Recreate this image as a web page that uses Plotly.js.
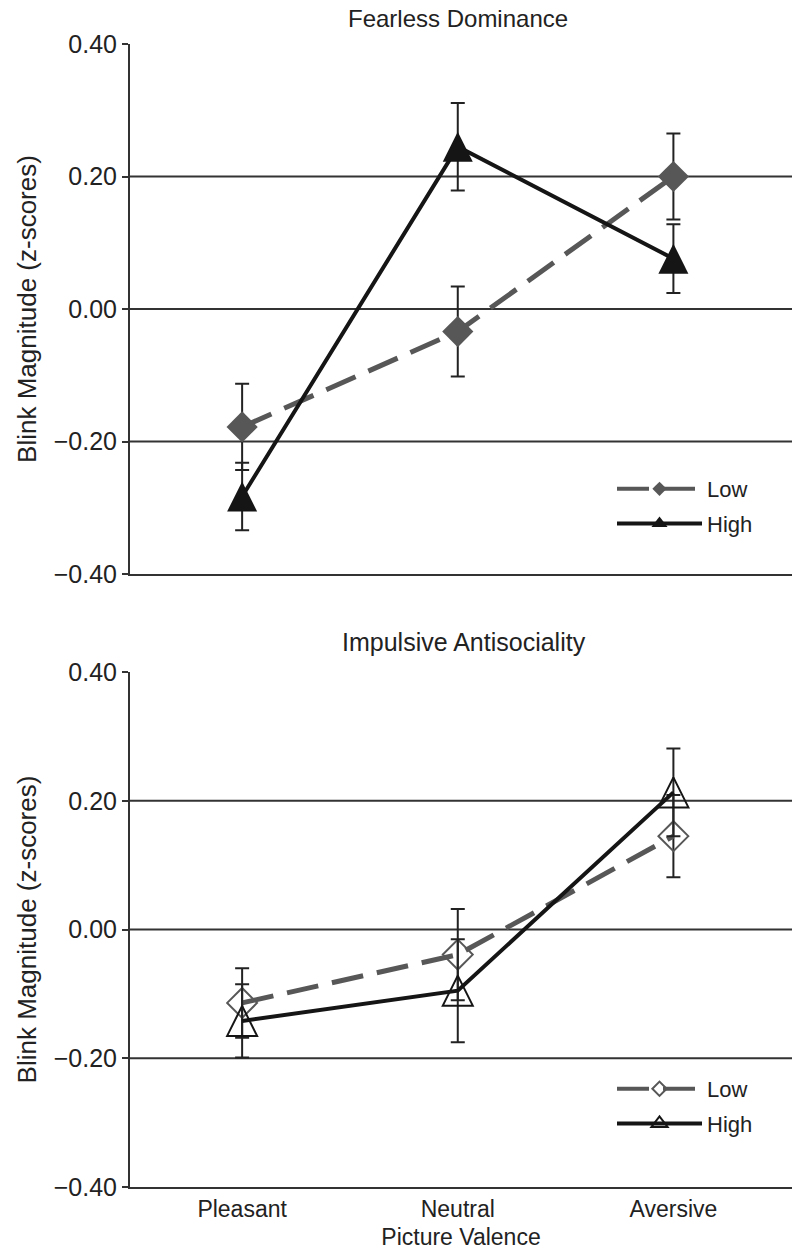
<!DOCTYPE html>
<html>
<head>
<meta charset="utf-8">
<script src="https://cdn.plot.ly/plotly-3.0.1.min.js"></script>
<style>
  html, body { margin: 0; padding: 0; background: #fff; }
  #chart { width: 792px; height: 1255px; }
</style>
</head>
<body>
<div id="chart"></div>
<script>
// ---- data ----
const categories = ['Pleasant', 'Neutral', 'Aversive'];
const seriesNames = ['Low', 'High'];
const panelTitles = ['Fearless Dominance', 'Impulsive Antisociality'];

const fdLow = [-0.178, -0.034, 0.200];
const fdLowErr = [0.065, 0.068, 0.065];
const fdHigh = [-0.283, 0.245, 0.076];
const fdHighErr = [0.051, 0.066, 0.052];

const iaLow = [-0.114, -0.039, 0.145];
const iaLowErr = [0.054, 0.071, 0.064];
const iaHigh = [-0.142, -0.095, 0.213];
const iaHighErr = [0.057, 0.080, 0.068];

const yTickVals = [-0.4, -0.2, 0, 0.2, 0.4];
const yTickText = ['\u22120.40', '\u22120.20', '0.00', '0.20', '0.40'];
const gridVals = [-0.2, 0, 0.2];

// ---- styling ----
const FONT = 'Liberation Sans, Arial, Helvetica, sans-serif';
const GREY = '#575757';
const BLACK = '#151515';
const AXC = '#333333';
const TXT = '#222222';

function errBar(arr) {
  return { type: 'data', array: arr, visible: true, color: '#222', thickness: 2, width: 7 };
}

const lowLine = { color: GREY, width: 5, dash: '32px,14px' };
const highLine = { color: BLACK, width: 4 };

const traces = [
  // Fearless Dominance
  {
    x: categories, y: fdLow, name: seriesNames[0], xaxis: 'x', yaxis: 'y', showlegend: false,
    mode: 'lines+markers', line: lowLine,
    marker: { symbol: 'diamond', size: 24, color: GREY },
    error_y: errBar(fdLowErr)
  },
  {
    x: categories, y: fdHigh, name: seriesNames[1], xaxis: 'x', yaxis: 'y', showlegend: false,
    mode: 'lines+markers', line: highLine,
    marker: { symbol: 'arrow-down', angle: 180, standoff: 15, size: 30, color: BLACK },
    error_y: errBar(fdHighErr)
  },
  // Impulsive Antisociality
  {
    x: categories, y: iaLow, name: seriesNames[0], xaxis: 'x2', yaxis: 'y2', showlegend: false,
    mode: 'lines+markers', line: lowLine,
    marker: { symbol: 'diamond-open', size: 23, color: GREY, line: { color: GREY, width: 2 } },
    error_y: errBar(iaLowErr)
  },
  {
    x: categories, y: iaHigh, name: seriesNames[1], xaxis: 'x2', yaxis: 'y2', showlegend: false,
    mode: 'lines+markers', line: highLine,
    marker: { symbol: 'arrow-down-open', angle: 180, standoff: 15, size: 30, color: BLACK, line: { color: BLACK, width: 2 } },
    error_y: errBar(iaHighErr)
  },
  // legend entries (no data points)
  {
    x: [null], y: [null], name: seriesNames[0], xaxis: 'x', yaxis: 'y', legend: 'legend', legendgroup: 'a1',
    mode: 'lines+markers', line: { color: GREY, width: 4, dash: '32px,14px' },
    marker: { symbol: 'diamond', size: 11, color: GREY }
  },
  {
    x: [null], y: [null], name: seriesNames[1], xaxis: 'x', yaxis: 'y', legend: 'legend', legendgroup: 'a2',
    mode: 'lines+markers', line: { color: BLACK, width: 4 },
    marker: { symbol: 'triangle-up', size: 14, color: BLACK }
  },
  {
    x: [null], y: [null], name: seriesNames[0], xaxis: 'x2', yaxis: 'y2', legend: 'legend2', legendgroup: 'b1',
    mode: 'lines+markers', line: { color: GREY, width: 4, dash: '32px,14px' },
    marker: { symbol: 'diamond-open', size: 11, color: GREY, line: { color: GREY, width: 2 } }
  },
  {
    x: [null], y: [null], name: seriesNames[1], xaxis: 'x2', yaxis: 'y2', legend: 'legend2', legendgroup: 'b2',
    mode: 'lines+markers', line: { color: BLACK, width: 4 },
    marker: { symbol: 'triangle-up-open', size: 14, color: BLACK, line: { color: BLACK, width: 2 } }
  }
];

function yAxis(domain, anchor) {
  return {
    domain: domain, anchor: anchor, range: [-0.4, 0.4],
    tickvals: yTickVals, ticktext: yTickText,
    ticks: 'outside', ticklen: 6, tickwidth: 2, tickcolor: AXC,
    tickfont: { family: FONT, size: 25, color: TXT },
    showline: true, linecolor: AXC, linewidth: 2,
    showgrid: false, zeroline: false,
    title: { text: 'Blink Magnitude (z-scores)', font: { family: FONT, size: 26, color: TXT }, standoff: 10 }
  };
}

function xAxis(anchor, showLabels) {
  return {
    anchor: anchor, domain: [0, 1], type: 'category', range: [-0.52, 2.55],
    showline: true, linecolor: AXC, linewidth: 2, ticks: '',
    showgrid: false, zeroline: false,
    showticklabels: showLabels,
    tickfont: { family: FONT, size: 23, color: TXT }
  };
}

const H = 1255;
const topDomain = [(H - 574) / H, (H - 44) / H];
const botDomain = [(H - 1187) / H, (H - 672) / H];

const shapes = [];
[['x', 'y'], ['x2', 'y2']].forEach(function (ax) {
  gridVals.forEach(function (v) {
    shapes.push({
      type: 'line', xref: ax[0] + ' domain', yref: ax[1], x0: 0, x1: 1, y0: v, y1: v,
      line: { color: AXC, width: 1.8 }, layer: 'below'
    });
  });
});

const xBottom = xAxis('y2', true);
xBottom.title = { text: 'Picture Valence', font: { family: FONT, size: 23, color: TXT }, standoff: 8 };

const legendBase = {
  xanchor: 'left', yanchor: 'top', bgcolor: 'rgba(0,0,0,0)',
  font: { family: FONT, size: 22, color: TXT },
  itemwidth: 85, tracegroupgap: 3
};

const layout = {
  width: 792, height: 1255,
  margin: { l: 130, r: 0, t: 0, b: 0 },
  paper_bgcolor: '#fff', plot_bgcolor: '#fff',
  showlegend: true,
  xaxis: xAxis('y', false),
  yaxis: yAxis(topDomain, 'x'),
  xaxis2: xBottom,
  yaxis2: yAxis(botDomain, 'x2'),
  legend: Object.assign({}, legendBase, { x: (612 - 130) / 662, y: (H - 468) / H }),
  legend2: Object.assign({}, legendBase, { x: (612 - 130) / 662, y: (H - 1068) / H }),
  shapes: shapes,
  annotations: [
    { text: panelTitles[0], xref: 'paper', yref: 'paper', x: (458 - 130) / 662, y: (H - 18) / H,
      showarrow: false, xanchor: 'center', yanchor: 'middle', font: { family: FONT, size: 24, color: TXT } },
    { text: panelTitles[1], xref: 'paper', yref: 'paper', x: (464 - 130) / 662, y: (H - 642) / H,
      showarrow: false, xanchor: 'center', yanchor: 'middle', font: { family: FONT, size: 25, color: TXT } }
  ]
};

Plotly.newPlot('chart', traces, layout, { displayModeBar: false, staticPlot: true });
</script>
</body>
</html>
